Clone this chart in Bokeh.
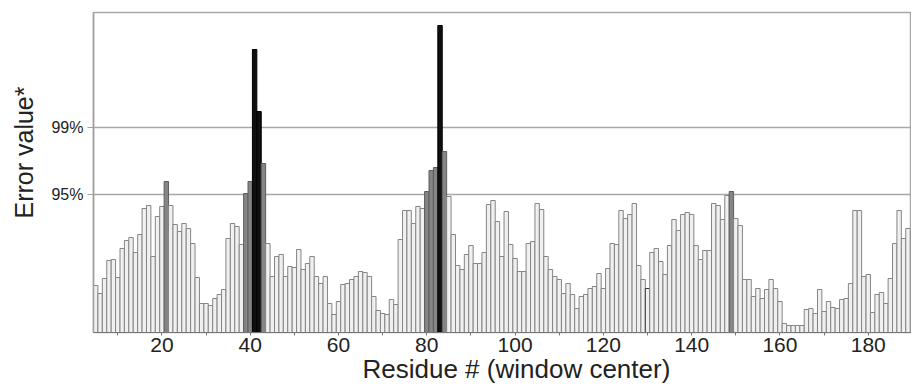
from bokeh.plotting import figure
from bokeh.models import ColumnDataSource, FixedTicker, Range1d, Title
from bokeh.embed import file_html
from bokeh.resources import INLINE

# ---- data ----
FIRST_RESIDUE = 5
# error value per window centre (arbitrary units; 0 = baseline)
err_5_34 = [47, 39, 54, 72, 73, 55, 84, 92, 95, 80, 98, 124, 127, 76, 116, 126, 151, 127, 108, 101,
            109, 104, 89, 55, 29, 29, 27, 34, 38, 43]
err_35_79 = [94, 109, 106, 88, 139, 151, 283, 221, 169, 89,
             56, 76, 78, 56, 66, 65, 83, 63, 69, 76,
             56, 49, 56, 29, 18, 31, 48, 49, 53, 56,
             61, 60, 56, 36, 22, 19, 18, 33, 28, 93,
             122, 122, 109, 126, 124]
err_80_124 = [141, 162, 165, 307, 181, 136, 98, 67, 63, 78,
              87, 69, 69, 80, 128, 132, 111, 76, 121, 88,
              74, 61, 61, 89, 91, 129, 123, 76, 63, 56,
              53, 39, 49, 38, 24, 36, 38, 44, 46, 59,
              44, 64, 89, 88, 122]
err_125_189 = [114, 118, 129, 67, 53, 44, 80, 84, 71, 58,
               87, 113, 102, 118, 120, 118, 87, 73, 82, 82,
               129, 127, 113, 137, 141, 114, 107, 53, 53, 36,
               44, 34, 43, 53, 44, 31, 9, 7, 7, 7,
               7, 23, 24, 19, 43, 21, 31, 25, 24, 33,
               34, 49, 122, 122, 56, 58, 20, 38, 40, 29,
               54, 89, 122, 94, 104]
marked_residues = [130]          # bar drawn with a darker outline

THRESH_95 = 138
THRESH_99 = 205
y_tick_labels = {THRESH_95: "95%", THRESH_99: "99%"}
x_major_ticks = [20, 40, 60, 80, 100, 120, 140, 160, 180]
x_minor_ticks = [10, 30, 50, 70, 90, 110, 130, 150, 170, 190]

errors = err_5_34 + err_35_79 + err_80_124 + err_125_189
residues = list(range(FIRST_RESIDUE, FIRST_RESIDUE + len(errors)))

fills, lines = [], []
for r, v in zip(residues, errors):
    if v >= THRESH_99:
        fills.append("#101010"); lines.append("#000000")
    elif v >= THRESH_95:
        fills.append("#858585"); lines.append("#5e5e5e")
    else:
        fills.append("#f0f0f0"); lines.append("#333333" if r in marked_residues else "#858585")

src = ColumnDataSource(dict(x=residues, top=errors, fill=fills, line=lines))

FONT = "Liberation Sans"
p = figure(width=911, height=387, output_backend="svg", toolbar_location=None,
           x_range=Range1d(4.5, 189.8), y_range=Range1d(0, 320),
           min_border_left=93, min_border_right=0, min_border_top=12, min_border_bottom=55)
p.background_fill_color = "white"
p.border_fill_color = "white"
p.outline_line_color = "#a8a8a8"
p.outline_line_width = 1.5

p.vbar(x="x", top="top", bottom=0, width=1.0, fill_color="fill", line_color="line",
       line_width=1, source=src)

# x axis
xa = p.xaxis[0]
xa.ticker = FixedTicker(ticks=x_major_ticks, minor_ticks=x_minor_ticks)
xa.major_label_text_font = FONT
xa.major_label_text_font_size = "21px"
xa.major_label_text_color = "#222222"
xa.major_label_standoff = 2
xa.major_tick_out = 3
xa.major_tick_in = 0
xa.minor_tick_out = 3
xa.minor_tick_in = 0
xa.axis_line_color = "#777777"
xa.major_tick_line_color = "#777777"
xa.minor_tick_line_color = "#777777"

# y axis
ya = p.yaxis[0]
ya.ticker = FixedTicker(ticks=[THRESH_95, THRESH_99])
ya.major_label_overrides = y_tick_labels
ya.major_label_text_font = FONT
ya.major_label_text_font_size = "16px"
ya.major_label_text_color = "#222222"
ya.major_label_standoff = 4
ya.major_tick_out = 6
ya.major_tick_in = 0
ya.minor_tick_line_color = None
ya.axis_line_color = "#a0a0a0"
ya.axis_line_width = 1.5
ya.major_tick_line_color = "#a0a0a0"

p.xgrid.visible = False
p.ygrid.grid_line_color = "#a8a8a8"
p.ygrid.grid_line_width = 1.5

# axis titles
p.add_layout(Title(text="Residue # (window center)", align="left", offset=269,
                   vertical_align="bottom", standoff=-5, text_font=FONT,
                   text_font_size="26px", text_font_style="normal",
                   text_color="#222222"), "below")
p.add_layout(Title(text="Error value*", align="left", offset=114,
                   vertical_align="top", standoff=18, text_font=FONT,
                   text_font_size="25px", text_font_style="normal",
                   text_color="#222222"), "left")

open("out.html", "w").write(file_html(p, INLINE))
